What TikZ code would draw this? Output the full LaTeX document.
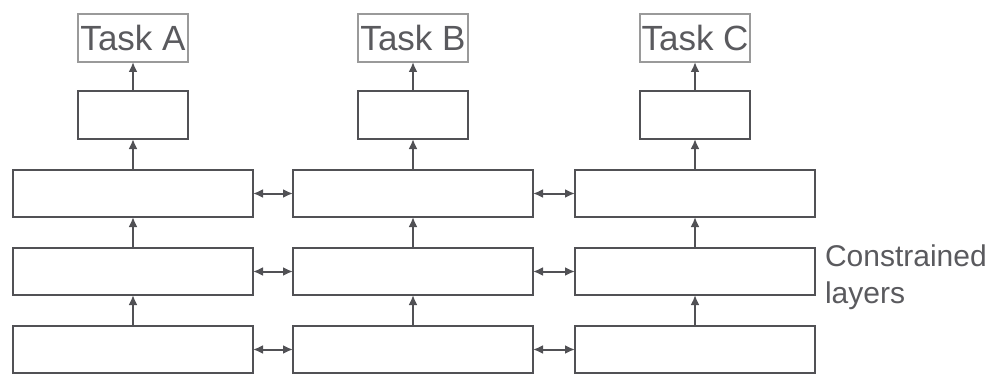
\documentclass[tikz,border=0pt]{standalone}
\usepackage{fontspec}
\setmainfont{Liberation Sans}
\usepackage{tikz}
\usetikzlibrary{arrows.meta,positioning}

\definecolor{linegray}{HTML}{515155}
\definecolor{taskgray}{HTML}{9A9A9A}
\definecolor{textgray}{HTML}{5A5A5E}

\begin{document}
\begin{tikzpicture}[
  x=0.5pt, y=-0.5pt,
  node distance=15.5pt and 20pt,
  every node/.style={outer sep=0pt},
  layer/.style={rectangle, draw=linegray, line width=1pt, minimum width=120pt, minimum height=23.5pt, inner sep=0pt},
  head/.style={rectangle, draw=linegray, line width=1pt, minimum width=55pt, minimum height=24pt, inner sep=0pt},
  task/.style={rectangle, draw=taskgray, line width=0.9pt, minimum width=55pt, minimum height=24pt, inner sep=0pt, text=textgray, font=\fontsize{17.5}{17.5}\selectfont},
  arrow/.style={-{Latex[length=5pt,width=4.5pt]}, line width=1pt, draw=linegray},
  link/.style={{Latex[length=5pt,width=4.5pt]}-{Latex[length=5pt,width=4.5pt]}, line width=1pt, draw=linegray},
]
  \useasboundingbox (0,0) rectangle (989,374);

  % shared layers, bottom row first
  \node[layer] (a3) at (133,349.5) {};
  \node[layer, above=of a3] (a2) {};
  \node[layer, above=of a2] (a1) {};
  \node[layer, right=of a3] (b3) {};
  \node[layer, right=of a2] (b2) {};
  \node[layer, right=of a1] (b1) {};
  \node[layer, right=21pt of b3] (c3) {};
  \node[layer, right=21pt of b2] (c2) {};
  \node[layer, right=21pt of b1] (c1) {};

  % task specific heads
  \node[head, above=of a1] (ha) {};
  \node[head, above=of b1] (hb) {};
  \node[head, above=of c1] (hc) {};
  \node[task, above=14.5pt of ha] (ta) {Task A};
  \node[task, above=14.5pt of hb] (tb) {Task B};
  \node[task, above=14.5pt of hc] (tc) {Task C};

  \node[right=3pt of c2, align=left, text=textgray, inner sep=2pt,
        font=\fontsize{15}{18.5}\selectfont, yshift=-3pt] (constr) {Constrained\\layers};

  \foreach \col in {a,b,c} {
    \draw[arrow] (\col3) -- (\col2);
    \draw[arrow] (\col2) -- (\col1);
    \draw[arrow] (\col1) -- (h\col);
    \draw[arrow] (h\col) -- (t\col);
  }
  \foreach \row in {1,2,3} {
    \draw[link] (a\row) -- (b\row);
    \draw[link] (b\row) -- (c\row);
  }
\end{tikzpicture}
\end{document}
